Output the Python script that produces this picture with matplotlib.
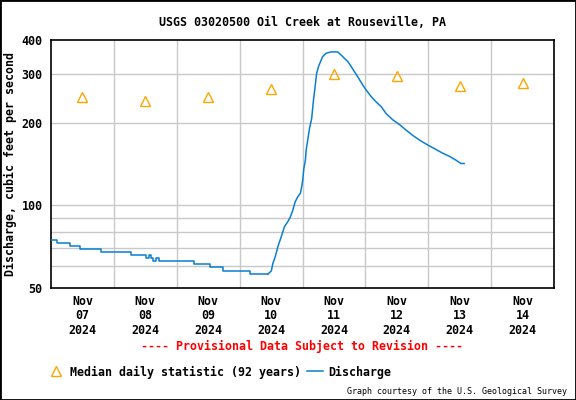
import matplotlib
matplotlib.use('Agg')
import matplotlib.pyplot as plt
from matplotlib.patches import Rectangle
from matplotlib.ticker import FixedLocator, NullFormatter

# hours since Nov 07 2024 00:00 and discharge (cfs)
# low flow before the rise, recorded as step levels
base_hours = [0, 2.4, 7.2, 11.2, 18.9, 30.5, 36.1, 37.5, 38.0, 39.0, 40.0, 41.1,
              54.5, 60.8, 65.6, 75.8, 82.8]
base_q = [74.6, 72.8, 71.1, 69.3, 67.5, 66.0, 64.3, 66.0, 64.3, 62.6, 64.3, 62.6,
          61.0, 59.5, 57.5, 56.2, 56.2]
# storm rise and recession
storm_hours = [82.8, 84.1, 84.7, 85.6, 86.6, 87.9, 89.1,
               90.4, 91.4, 92.3, 93.2, 94.2, 95.2, 95.7, 96.1, 96.5, 97.1, 97.4,
               98.0, 98.7, 99.5, 100.2, 100.8, 101.4, 102.1, 102.9, 103.7, 105.0,
               106.9, 109.4, 110.7, 112.0, 113.3, 114.6, 115.8, 117.1, 119.0,
               120.3, 122.2, 124.1, 126.0, 127.9, 130.4, 133.0, 135.5, 138.0,
               140.6, 143.7, 146.3, 149.4, 152.0, 154.6, 156.5, 157.7]
storm_q = [56.2, 57.7, 61.5, 65.0, 70.7, 76.9, 83.6,
           87.2, 90.9, 96.0, 103, 107.5, 110.6, 117, 124, 136, 146, 159,
           173, 191, 207, 242, 270, 302, 320, 334, 348, 358,
           362, 362, 353, 343, 334, 320, 307, 294, 274,
           263, 249, 238, 229, 216, 205, 197, 188, 180,
           173, 166, 161, 155, 151, 146, 142, 142]

median_hours = [12, 36, 60, 84, 108, 132, 156, 180]
median_vals = [248, 240, 248, 265, 301, 296, 272, 279]

day_labels = ['Nov\n07\n2024', 'Nov\n08\n2024', 'Nov\n09\n2024', 'Nov\n10\n2024',
              'Nov\n11\n2024', 'Nov\n12\n2024', 'Nov\n13\n2024', 'Nov\n14\n2024']
y_labels = [50, 100, 200, 300, 400]
y_grid = [60, 70, 80, 90, 100, 200, 300]

plt.rcParams['font.family'] = 'DejaVu Sans Mono'
plt.rcParams['font.weight'] = 'bold'
fs = 8.4
blue = '#0a7fd0'

fig = plt.figure(figsize=(5.76, 4.0), dpi=100)
ax = fig.add_axes([51/576, 1-288/400, (554-51)/576, (288-40)/400])

ax.set_yscale('log')
ax.set_ylim(50, 400)
ax.set_xlim(0, 192)

# grid
for g in y_grid:
    ax.axhline(g, color='#c8c8c8', lw=1, zorder=0)
for d in range(24, 192, 24):
    ax.axvline(d, color='#c8c8c8', lw=1, zorder=0)

ax.plot(base_hours, base_q, color=blue, lw=1.1, drawstyle='steps-post', zorder=3)
ax.plot(storm_hours, storm_q, color=blue, lw=1.1, label='Discharge', zorder=3)
ax.plot(median_hours, median_vals, ls='none', marker='^', ms=7, mfc='none',
        mec='#ffa500', mew=1.0, label='Median daily statistic (92 years)', zorder=4)

ax.yaxis.set_major_locator(FixedLocator(y_labels))
ax.yaxis.set_minor_locator(FixedLocator([]))
ax.yaxis.set_minor_formatter(NullFormatter())
ax.set_yticklabels([str(v) for v in y_labels], fontsize=fs, fontweight='bold')
ax.set_xticks(median_hours)
ax.set_xticklabels(day_labels, fontsize=fs, fontweight='bold', linespacing=1.15)
ax.tick_params(axis='both', length=0, pad=6)
ax.tick_params(axis='x', pad=5)

for s in ax.spines.values():
    s.set_linewidth(1.2)

ax.set_ylabel('Discharge, cubic feet per second', fontsize=fs, fontweight='bold', labelpad=3)
ax.set_title('USGS 03020500 Oil Creek at Rouseville, PA', fontsize=fs,
             fontweight='bold', pad=10)

fig.text(302/576, 1-346/400, '---- Provisional Data Subject to Revision ----',
         color='red', fontsize=fs, fontweight='bold', ha='center', va='center')

h, l = ax.get_legend_handles_labels()
fig.legend(h[::-1], l[::-1], loc='center left', bbox_to_anchor=(37/576, 1-372/400),
           ncol=2, frameon=False, prop={'size': fs, 'weight': 'bold'},
           handlelength=1.4, handletextpad=0.5, columnspacing=0.5)

fig.text(567/576, 1-391/400, 'Graph courtesy of the U.S. Geological Survey',
         fontsize=6, fontweight='normal', ha='right', va='center')

fig.patches.append(Rectangle((0, 0), 1, 1, transform=fig.transFigure, fill=False,
                             edgecolor='black', lw=2))

fig.savefig('out.png', dpi=100)
